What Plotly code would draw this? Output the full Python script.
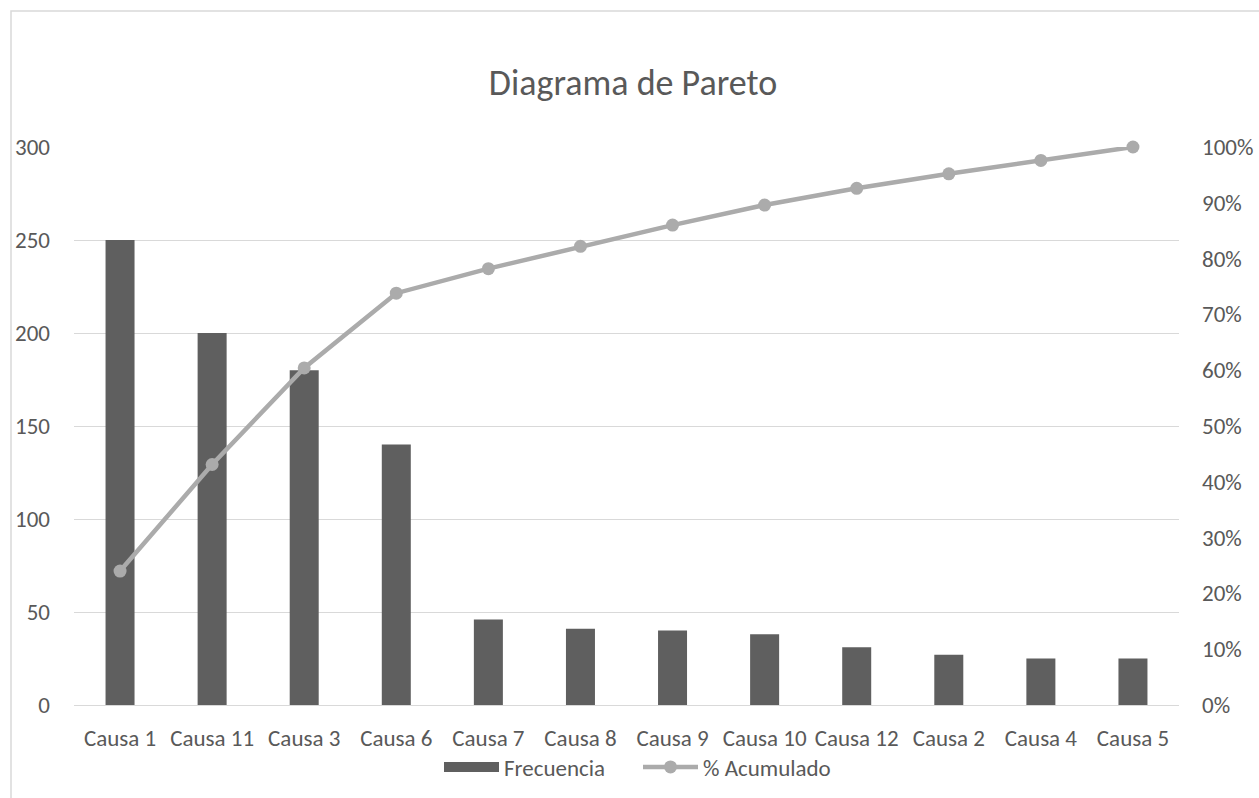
import plotly.graph_objects as go

# Causes ordered by frequency (Pareto order)
causas = ["Causa 1", "Causa 11", "Causa 3", "Causa 6", "Causa 7", "Causa 8",
          "Causa 9", "Causa 10", "Causa 12", "Causa 2", "Causa 4", "Causa 5"]
frecuencia = [250, 200, 180, 140, 46, 41, 40, 38, 31, 27, 25, 25]
acumulado = [0.240, 0.431, 0.604, 0.738, 0.782, 0.822, 0.860, 0.896, 0.926, 0.952, 0.976, 1.000]

left_ticks = [0, 50, 100, 150, 200, 250, 300]
right_ticks = [i / 10 for i in range(11)]

TEXT = "#595959"
GRID = "#d9d9d9"
BAR = "#5f5f5f"
LINE = "#ababab"
FONT = "Calibri, Carlito, 'Noto Sans', sans-serif"
TICK = 23

fig = go.Figure()
fig.add_trace(go.Bar(
    x=causas, y=frecuencia, name="Frecuencia",
    marker=dict(color=BAR, line=dict(width=0)),
    yaxis="y", showlegend=False,
))
# legend entry for the bars, drawn as a wide block
fig.add_trace(go.Scatter(
    x=[None], y=[None], name="Frecuencia", mode="lines",
    line=dict(color=BAR, width=12), yaxis="y",
))
fig.add_trace(go.Scatter(
    x=causas, y=acumulado, name="% Acumulado",
    mode="lines+markers",
    line=dict(color=LINE, width=4.5),
    marker=dict(color=LINE, size=13),
    yaxis="y2", cliponaxis=False,
))

W, H = 1259, 798
L, R, T, B = 74, 80, 147, 93
pw, ph = W - L - R, H - T - B

def px_x(p):
    return (p - L) / pw

def px_y(p):
    return (H - B - p) / ph

fig.update_layout(
    width=W, height=H,
    margin=dict(l=L, r=R, t=T, b=B, autoexpand=False),
    paper_bgcolor="white", plot_bgcolor="white",
    font=dict(family=FONT, size=TICK, color=TEXT),
    bargap=0.685,
    title=dict(text="Diagrama de Pareto", x=633 / W, xanchor="center",
               y=1 - 82 / H, yanchor="middle", yref="container",
               font=dict(size=36, color=TEXT, family=FONT)),
    xaxis=dict(range=[-0.5, 11.5], showgrid=False, showline=True, linecolor=GRID,
               linewidth=1, ticks="", ticklabelstandoff=12, automargin=False,
               tickfont=dict(size=TICK, color=TEXT)),
    yaxis=dict(range=[0, 300], tickvals=left_ticks, showgrid=True, gridcolor=GRID,
               gridwidth=1, zeroline=False, showline=False, ticks="",
               ticklabelstandoff=23, automargin=False,
               tickfont=dict(size=TICK, color=TEXT)),
    yaxis2=dict(range=[0, 1], tickvals=right_ticks, tickformat=".0%",
                overlaying="y", side="right", showgrid=False, zeroline=False,
                showline=False, ticks="", ticklabelstandoff=22, automargin=False,
                tickfont=dict(size=TICK, color=TEXT)),
    legend=dict(orientation="h", x=px_x(638), xanchor="center", y=px_y(767),
                yanchor="middle", font=dict(size=TICK, color=TEXT),
                bgcolor="rgba(0,0,0,0)", itemwidth=55, tracegroupgap=0,
                entrywidth=129, entrywidthmode="pixels"),
    showlegend=True,
    shapes=[dict(type="rect", xref="paper", yref="paper",
                 x0=px_x(11), x1=px_x(1265), y0=px_y(805), y1=px_y(11),
                 line=dict(color=GRID, width=1.5), fillcolor="rgba(0,0,0,0)",
                 layer="below")],
)

fig.write_html("out.html")
